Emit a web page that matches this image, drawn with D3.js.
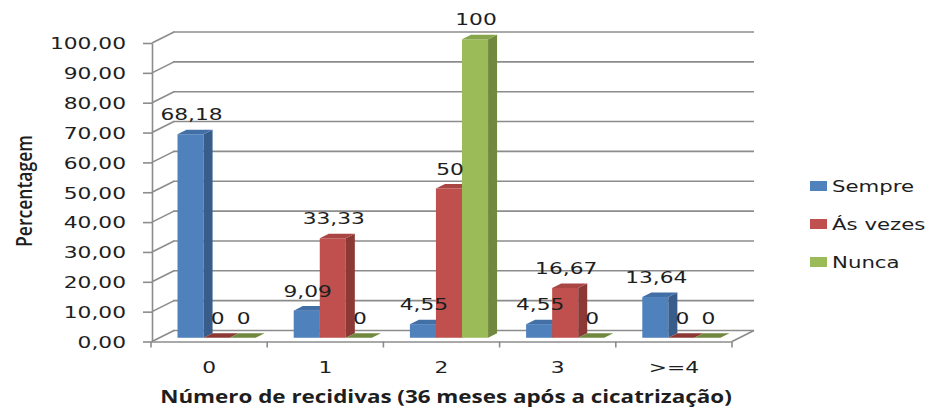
<!DOCTYPE html>
<html>
<head>
<meta charset="utf-8">
<script src="https://cdn.jsdelivr.net/npm/d3@7"></script>
<style>
  html, body { margin: 0; padding: 0; background: #ffffff; }
  svg { display: block; }
  text { fill: #1e1e1e; }
</style>
</head>
<body>
<script>
// Recurrences by adherence group (percentages)
const categories = ["0", "1", "2", "3", ">=4"];
const seriesNames = ["Sempre", "Ás vezes", "Nunca"];
const sempre  = [68.18, 9.09, 4.55, 4.55, 13.64];
const asVezes = [0, 33.33, 50, 16.67, 0];
const nunca   = [0, 0, 100, 0, 0];
const yTicks  = [0, 10, 20, 30, 40, 50, 60, 70, 80, 90, 100];
const xTitle  = "Número de recidivas (36 meses após a cicatrização)";
const yTitle  = "Percentagem";

const seriesValues = [sempre, asVezes, nunca];
const colors = [
  { front: "#4f81bd", side: "#385d8a", top: "#426fa6" },
  { front: "#c0504d", side: "#8c3936", top: "#a94542" },
  { front: "#9bbb59", side: "#71893f", top: "#87a64b" }
];

const W = 926, H = 408;
const SX = 1.36;            // horizontal stretch of the labels
const DX = 22, DY = -11;    // depth vector of the 3D box
const F0 = 0.34, F1 = 0.75; // bar depth span (fraction of box depth)

const svg = d3.select("body").append("svg").attr("width", W).attr("height", H);

const x = d3.scaleBand().domain(categories).range([151, 732]).paddingInner(0).paddingOuter(0);
const xs = d3.scaleBand().domain(seriesNames).range([0, x.bandwidth()]).paddingInner(0).paddingOuter(0.73);
const y = d3.scaleLinear().domain([0, 100]).range([341.5, 43]);

const fmtTick = d => d.toFixed(2).replace(".", ",");
const fmtVal = d => String(d).replace(".", ",");

const gridColor = "#8c8c8c";

// back wall and side wall gridlines
const grid = svg.append("g").attr("fill", "none").attr("stroke", gridColor).attr("stroke-width", 1.6);
grid.selectAll("line.back").data(yTicks).join("line").attr("class", "back")
  .attr("x1", 151 + DX).attr("x2", 732 + DX)
  .attr("y1", d => y(d) + DY).attr("y2", d => y(d) + DY);
grid.selectAll("line.side").data(yTicks).join("line").attr("class", "side")
  .attr("x1", 152).attr("x2", 152 + DX)
  .attr("y1", d => y(d)).attr("y2", d => y(d) + DY);
// right edge of the floor
grid.append("line")
  .attr("x1", 732).attr("y1", y(0)).attr("x2", 732 + DX).attr("y2", y(0) + DY);

// y axis
const yAxis = svg.append("g").attr("transform", "translate(152,0)")
  .call(d3.axisLeft(y).tickValues(yTicks).tickSize(9).tickSizeOuter(0).tickFormat(fmtTick));
yAxis.select(".domain").attr("stroke", gridColor).attr("stroke-width", 1.6);
yAxis.selectAll(".tick line").attr("stroke", gridColor).attr("stroke-width", 1.6);
yAxis.selectAll(".tick text")
  .attr("x", 0).attr("dy", "0.36em")
  .attr("transform", `translate(-26,0) scale(${SX},1)`)
  .attr("font-family", "DejaVu Sans").attr("font-size", 16).attr("fill", "#1e1e1e");

// x axis: floor front edge, category labels, boundary ticks
const xAxis = svg.append("g").attr("transform", `translate(0,${y(0)})`)
  .call(d3.axisBottom(x).tickSize(0).tickPadding(20));
xAxis.select(".domain").attr("stroke", gridColor).attr("stroke-width", 1.6);
xAxis.selectAll(".tick text")
  .attr("transform", `scale(${SX},1)`)
  .attr("font-family", "DejaVu Sans").attr("font-size", 16).attr("fill", "#1e1e1e");
const bounds = categories.map(c => x(c)).concat([x(categories[categories.length - 1]) + x.bandwidth()]);
xAxis.selectAll("line.bound").data(bounds).join("line").attr("class", "bound")
  .attr("x1", d => d).attr("x2", d => d).attr("y1", 0).attr("y2", 6)
  .attr("stroke", gridColor).attr("stroke-width", 1.6);

// bars
const bars = [];
categories.forEach((c, ci) => {
  seriesNames.forEach((s, si) => {
    const v = seriesValues[si][ci];
    const w = xs.bandwidth();
    const x0 = x(c) + xs(s) + F0 * DX;
    const yb = y(0) + F0 * DY;
    const yt = y(v) + F0 * DY;
    bars.push({ c, s, si, v, w, x0, yb, yt, ddx: (F1 - F0) * DX, ddy: (F1 - F0) * DY });
  });
});

const barG = svg.append("g");
bars.forEach(b => {
  const g = barG.append("g");
  const col = colors[b.si];
  if (b.v > 0) {
    g.append("rect").attr("x", b.x0).attr("y", b.yt).attr("width", b.w).attr("height", b.yb - b.yt)
      .attr("fill", col.front);
    g.append("polygon")
      .attr("points", [[b.x0 + b.w, b.yb], [b.x0 + b.w, b.yt], [b.x0 + b.w + b.ddx, b.yt + b.ddy], [b.x0 + b.w + b.ddx, b.yb + b.ddy]].join(" "))
      .attr("fill", col.side);
  }
  g.append("polygon")
    .attr("points", [[b.x0, b.yt], [b.x0 + b.w, b.yt], [b.x0 + b.w + b.ddx, b.yt + b.ddy], [b.x0 + b.ddx, b.yt + b.ddy]].join(" "))
    .attr("fill", b.v > 0 ? col.top : col.side);
});

// value labels
svg.append("g").selectAll("text").data(bars).join("text")
  .attr("transform", b => `translate(${b.x0 + b.w / 2 + 1},${b.yt - 14}) scale(${SX},1)`)
  .attr("text-anchor", "middle")
  .attr("font-family", "DejaVu Sans").attr("font-size", 16)
  .text(b => fmtVal(b.v));

// legend
const legend = svg.append("g").selectAll("g").data(seriesNames).join("g")
  .attr("transform", (d, i) => `translate(810,${186 + i * 38})`);
legend.append("rect").attr("x", 0).attr("y", -5).attr("width", 17).attr("height", 10)
  .attr("fill", (d, i) => colors[i].front);
legend.append("text")
  .attr("transform", `translate(22,5.5) scale(1.33,1)`)
  .attr("font-family", "DejaVu Sans").attr("font-size", 16)
  .text(d => d);

// axis titles
const xt = svg.append("text")
  .attr("text-anchor", "middle")
  .attr("font-family", "Open Sans").attr("font-weight", "bold").attr("font-size", 17)
  .text(xTitle);
const xtLen = xt.node().getComputedTextLength();
xt.attr("transform", `translate(446,403) scale(${572 / xtLen},1)`);

const yt = svg.append("text")
  .attr("text-anchor", "middle")
  .attr("font-family", "Open Sans").attr("font-weight", 600).attr("font-size", 16)
  .text(yTitle);
const ytLen = yt.node().getComputedTextLength();
yt.attr("transform", `translate(32,191) scale(1.4,1) rotate(-90) scale(${112 / ytLen},1)`);
</script>
</body>
</html>
